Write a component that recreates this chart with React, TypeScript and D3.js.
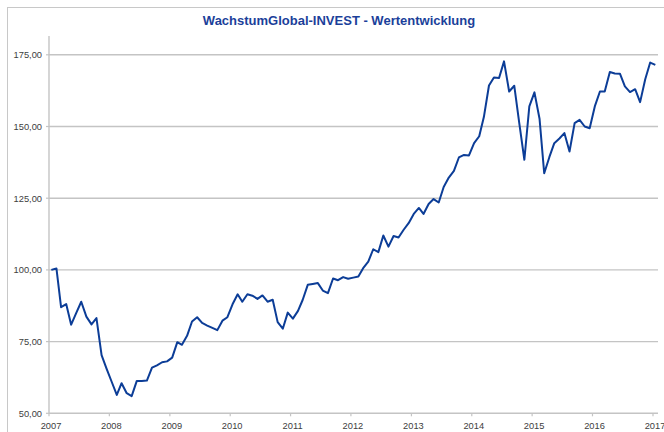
import React from "react";
import * as d3 from "d3";

const START_YEAR = 2007;
const values: number[] = [
  100.0, 100.5, 87.0, 88.1, 80.9, 85.0, 88.9, 83.7, 81.0, 83.2, 70.3, 65.6,
  61.0, 56.4, 60.5, 57.0, 56.0, 61.3, 61.3, 61.4, 65.9, 66.7, 67.8, 68.1,
  69.4, 74.8, 73.9, 77.0, 82.0, 83.5, 81.5, 80.6, 79.8, 79.0, 82.3, 83.5,
  88.0, 91.5, 88.9, 91.5, 91.0, 89.9, 91.1, 88.9, 89.6, 81.8, 79.5, 85.1,
  83.0, 85.7, 89.5, 94.8, 95.1, 95.4, 92.8, 91.9, 97.0, 96.4, 97.5, 96.9,
  97.3, 97.7, 100.6, 102.9, 107.2, 106.2, 112.0, 108.1, 111.8, 111.3, 114.0, 116.3,
  119.5, 121.6, 119.5, 123.0, 124.7, 123.5, 128.9, 132.2, 134.5, 139.2, 140.1, 139.9,
  144.2, 146.6, 153.3, 164.3, 167.1, 166.9, 172.7, 162.2, 164.2, 151.3, 138.4, 157.0,
  161.9, 152.6, 133.7, 139.3, 144.2, 145.8, 147.7, 141.3, 151.2, 152.3, 150.0, 149.4,
  157.0, 162.2, 162.2, 169.0, 168.5, 168.4, 164.0, 162.0, 163.0, 158.5, 166.5, 172.3,
  171.5,
];
const yTicks: number[] = [50, 75, 100, 125, 150, 175];
const xTickYears: number[] = [2007, 2008, 2009, 2010, 2011, 2012, 2013, 2014, 2015, 2016, 2017];
const title = "WachstumGlobal-INVEST - Wertentwicklung";

const W = 664;
const H = 432;
const left = 49;
const right = 658;
const top = 36;
const bottom = 413.3;

export default function App() {
  const data = values.map((v, i) => ({
    date: new Date(START_YEAR, i, 15),
    value: v,
  }));
  const x = d3
    .scaleTime()
    .domain([new Date(2007, 0, 1), new Date(2017, 0, 1)])
    .range([left, 653]);
  const y = d3.scaleLinear().domain([50, 175]).range([bottom, 54.8]);
  const line = d3
    .line<{ date: Date; value: number }>()
    .x((d) => x(d.date))
    .y((d) => y(d.value));

  const font = "'Liberation Sans', Arial, sans-serif";
  const grid = "#c4c4c4";

  return (
    <svg
      width={W}
      height={H}
      style={{ position: "fixed", left: 0, top: 0, background: "#fff" }}
    >
      <rect x={7.5} y={7.5} width={800} height={600} fill="#fff" stroke="#c8c8c8" strokeWidth={1} />
      <text
        x={339}
        y={25}
        textAnchor="middle"
        fontFamily={font}
        fontWeight="bold"
        fontSize={13}
        fill="#1b3f9a"
      >
        {title}
      </text>
      {yTicks.map((t) => (
        <g key={t}>
          {t !== 50 && (
            <line x1={left} x2={right} y1={y(t)} y2={y(t)} stroke={grid} strokeWidth={1.4} />
          )}
          <line x1={left - 3} x2={left} y1={y(t)} y2={y(t)} stroke={grid} strokeWidth={1.2} />
          <text
            x={42}
            y={y(t) + 3.3}
            textAnchor="end"
            fontFamily={font}
            fontSize={9.3}
            fill="#404040"
          >
            {d3.format(".2f")(t).replace(".", ",")}
          </text>
        </g>
      ))}
      <line x1={left} x2={left} y1={top} y2={bottom} stroke={grid} strokeWidth={1.4} />
      <line x1={left} x2={right} y1={bottom} y2={bottom} stroke={grid} strokeWidth={1.4} />
      {xTickYears.map((yr) => {
        const xx = x(new Date(yr, 0, 1));
        return (
          <g key={yr}>
            <line x1={xx} x2={xx} y1={bottom} y2={bottom + 3} stroke={grid} strokeWidth={1.2} />
            <text
              x={xx + 2}
              y={428.5}
              textAnchor="middle"
              fontFamily={font}
              fontSize={9.3}
              fill="#404040"
            >
              {yr}
            </text>
          </g>
        );
      })}
      <path
        d={line(data) || ""}
        fill="none"
        stroke="#0c3d97"
        strokeWidth={2}
        strokeLinejoin="round"
      />
    </svg>
  );
}
